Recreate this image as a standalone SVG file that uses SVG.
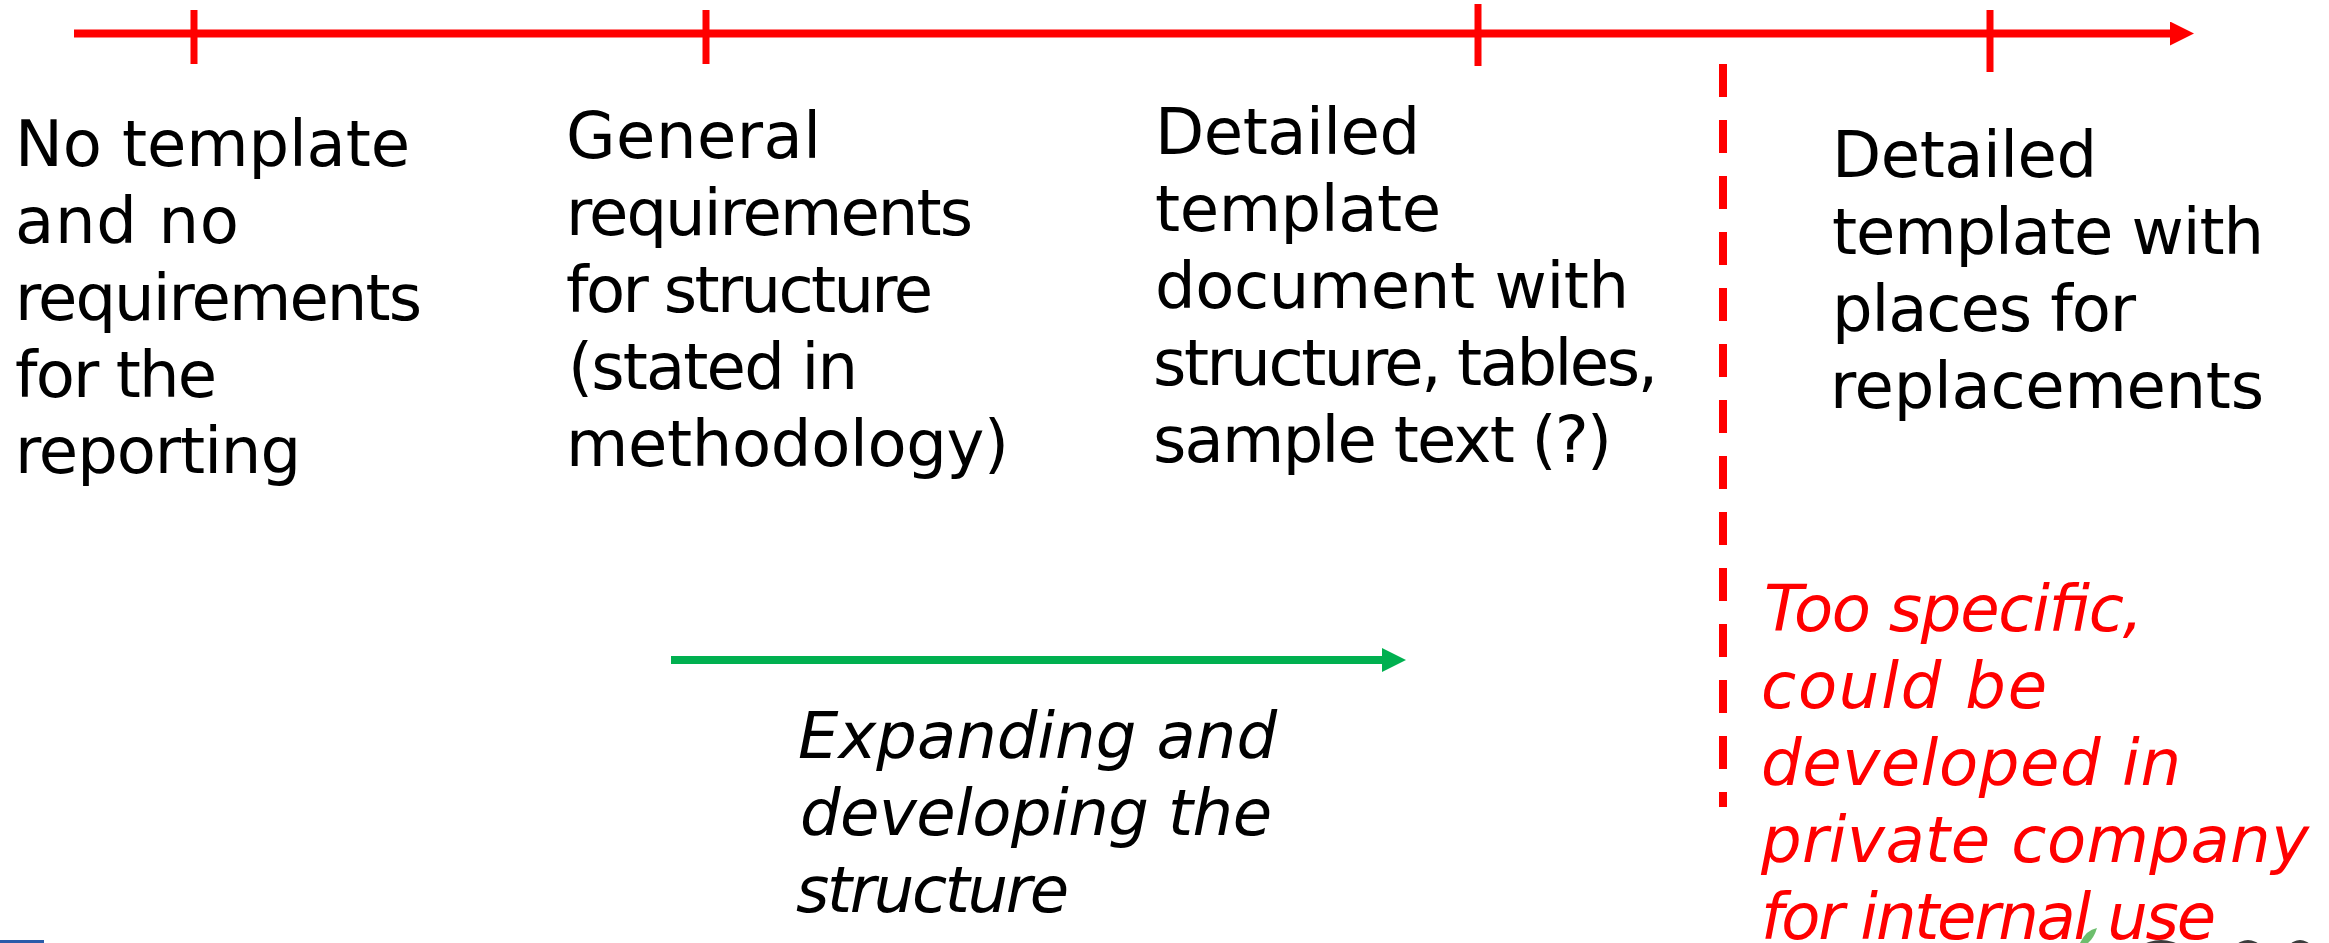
<svg xmlns="http://www.w3.org/2000/svg" width="2329" height="943" viewBox="0 0 2329 943">
  <style>
    .lbl { font-family: "DejaVu Sans", "Liberation Sans", sans-serif; font-size: 64px; fill: #000000; }
    .ital { font-style: italic; }
    .warn { fill: #FF0000; }
    .axis { stroke: #FF0000; stroke-width: 8; fill: none; }
    .tick { stroke: #FF0000; stroke-width: 7; }
    .dash { stroke: #FF0000; stroke-width: 8; stroke-dasharray: 33 23; }
    .grow { stroke: #00B050; stroke-width: 8; fill: none; }
  </style>
  <defs>
    <marker id="headRed" markerUnits="userSpaceOnUse" viewBox="0 0 24 24" markerWidth="24" markerHeight="24" refX="0" refY="12" orient="auto">
      <path d="M0,0 L24,12 L0,24 Z" fill="#FF0000"/>
    </marker>
    <marker id="headGreen" markerUnits="userSpaceOnUse" viewBox="0 0 24 24" markerWidth="24" markerHeight="24" refX="0" refY="12" orient="auto">
      <path d="M0,0 L24,12 L0,24 Z" fill="#00B050"/>
    </marker>
  </defs>
  <rect width="2329" height="943" fill="#FFFFFF"/>

  <g id="connectors">
    <!-- timeline axis -->
    <line class="axis" x1="74" y1="33.5" x2="2170" y2="33.5" marker-end="url(#headRed)"/>
    <line class="tick" x1="194" y1="10" x2="194" y2="64"/>
    <line class="tick" x1="706" y1="10" x2="706" y2="64"/>
    <line class="tick" x1="1478" y1="4" x2="1478" y2="66"/>
    <line class="tick" x1="1990" y1="10" x2="1990" y2="72"/>
    <!-- boundary between public and private scope -->
    <line class="dash" x1="1723" y1="64" x2="1723" y2="807"/>
    <!-- development direction -->
    <line class="grow" x1="671" y1="660" x2="1382" y2="660" marker-end="url(#headGreen)"/>
  </g>

  <g id="stage-none">
    <text class="lbl" x="15" y="166" textLength="395" lengthAdjust="spacing">No template</text>
    <text class="lbl" x="15" y="243" textLength="224" lengthAdjust="spacing">and no</text>
    <text class="lbl" x="15" y="320" textLength="407" lengthAdjust="spacing">requirements</text>
    <text class="lbl" x="15" y="397" textLength="202" lengthAdjust="spacing">for the</text>
    <text class="lbl" x="15" y="473" textLength="286" lengthAdjust="spacing">reporting</text>
  </g>

  <g id="stage-general">
    <text class="lbl" x="566" y="158" textLength="255" lengthAdjust="spacing">General</text>
    <text class="lbl" x="566" y="235" textLength="407" lengthAdjust="spacing">requirements</text>
    <text class="lbl" x="566" y="312" textLength="367" lengthAdjust="spacing">for structure</text>
    <text class="lbl" x="568" y="389" textLength="290" lengthAdjust="spacing">(stated in</text>
    <text class="lbl" x="566" y="466" textLength="443" lengthAdjust="spacing">methodology)</text>
  </g>

  <g id="stage-detailed">
    <text class="lbl" x="1155" y="154" textLength="265" lengthAdjust="spacing">Detailed</text>
    <text class="lbl" x="1155" y="231" textLength="286" lengthAdjust="spacing">template</text>
    <text class="lbl" x="1155" y="308" textLength="474" lengthAdjust="spacing">document with</text>
    <text class="lbl" x="1153" y="385" textLength="505" lengthAdjust="spacing">structure, tables,</text>
    <text class="lbl" x="1153" y="462" textLength="459" lengthAdjust="spacing">sample text (?)</text>
  </g>

  <g id="stage-placeholders">
    <text class="lbl" x="1832" y="177" textLength="265" lengthAdjust="spacing">Detailed</text>
    <text class="lbl" x="1832" y="254" textLength="432" lengthAdjust="spacing">template with</text>
    <text class="lbl" x="1832" y="331" textLength="304" lengthAdjust="spacing">places for</text>
    <text class="lbl" x="1830" y="408" textLength="434" lengthAdjust="spacing">replacements</text>
  </g>

  <g id="note-expanding">
    <text class="lbl ital" x="798" y="758" textLength="479" lengthAdjust="spacing">Expanding and</text>
    <text class="lbl ital" x="800" y="835" textLength="472" lengthAdjust="spacing">developing the</text>
    <text class="lbl ital" x="796" y="912" textLength="273" lengthAdjust="spacing">structure</text>
  </g>

  <g id="note-private">
    <text class="lbl ital warn" x="1764" y="631" textLength="379" lengthAdjust="spacing">Too specific,</text>
    <text class="lbl ital warn" x="1761" y="708" textLength="286" lengthAdjust="spacing">could be</text>
    <text class="lbl ital warn" x="1761" y="785" textLength="420" lengthAdjust="spacing">developed in</text>
    <text class="lbl ital warn" x="1761" y="862" textLength="548" lengthAdjust="spacing">private company</text>
    <text class="lbl ital warn" x="1761" y="939" textLength="455" lengthAdjust="spacing">for internal use</text>
  </g>

  <!-- page footer edges cut off at the bottom border -->
  <g id="footer">
    <rect x="0" y="940" width="44" height="3" fill="#2A5CAA"/>
    <path d="M2080,943 Q2086,930 2097,928 Q2094,938 2088,943 Z" fill="#6DBE6D"/>
    <ellipse cx="2161" cy="962" rx="29" ry="22" fill="#3C3C3C"/>
    <ellipse cx="2248" cy="962" rx="19" ry="22" fill="#3C3C3C"/>
    <ellipse cx="2300" cy="962" rx="17" ry="22" fill="#3C3C3C"/>
  </g>
</svg>
